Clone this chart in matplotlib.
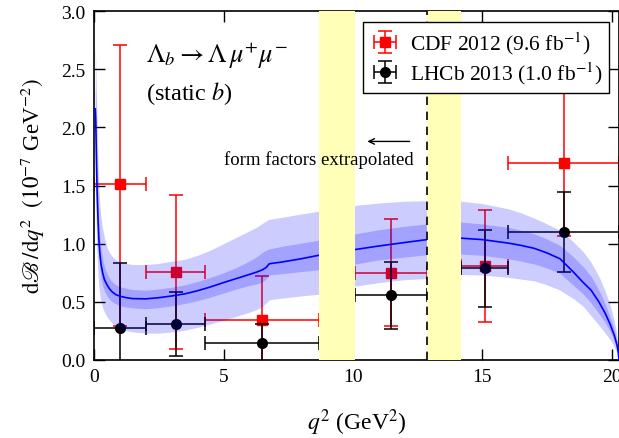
import numpy as np
import matplotlib
matplotlib.use('Agg')
from matplotlib import pyplot as plt

# bins (q^2 in GeV^2) shared by CDF and LHCb
bin_lo = [0.0, 2.0, 4.3, 10.09, 14.18, 16.0]
bin_hi = [2.0, 4.3, 8.68, 12.86, 16.0, 20.28]

# CDF 2012, 10^-7 GeV^-2
cdf_val = [1.515, 0.755, 0.345, 0.75, 0.81, 1.69]
cdf_up = [1.195, 0.66, 0.38, 0.465, 0.48, 0.61]
cdf_dn = [1.22, 0.665, 0.40, 0.46, 0.48, 0.625]

# LHCb 2013
lhcb_val = [0.275, 0.305, 0.146, 0.559, 0.79, 1.10]
lhcb_up = [0.56, 0.283, 0.161, 0.287, 0.33, 0.343]
lhcb_dn = [0.35, 0.275, 0.25, 0.292, 0.331, 0.345]

# lattice QCD prediction (static b)
q2 = [0.045, 0.065, 0.085, 0.1, 0.12, 0.15, 0.18, 0.22, 0.27, 0.33, 0.4, 0.5,
      0.6, 0.7, 0.85, 1.0, 1.25, 1.5, 2.0, 2.5, 3.0, 3.5, 4.0, 4.5, 5.0, 5.5,
      6.0, 6.3, 6.5, 6.65, 6.76, 6.85, 7.2, 8.0, 8.68, 9.4, 10.1, 11.0, 12.0,
      12.86, 13.5, 14.2, 15.0, 16.0, 16.5, 17.0, 17.5, 18.0, 18.5, 18.9, 19.2,
      19.5, 19.75, 19.95, 20.1, 20.2, 20.25, 20.28]
central = [2.16, 2.05, 1.8, 1.62, 1.43, 1.22, 1.05, 0.92, 0.82, 0.75, 0.69,
           0.645, 0.61, 0.585, 0.56, 0.548, 0.535, 0.527, 0.525, 0.535, 0.55,
           0.568, 0.595, 0.628, 0.665, 0.70, 0.735, 0.757, 0.775, 0.795, 0.826,
           0.83, 0.84, 0.87, 0.90, 0.925, 0.95, 0.98, 1.01, 1.035, 1.045, 1.047,
           1.035, 1.005, 0.985, 0.96, 0.92, 0.87, 0.76, 0.665, 0.60, 0.50, 0.40,
           0.30, 0.21, 0.13, 0.07, 0.0]
inner_hi = [2.35, 2.25, 2.0, 1.8, 1.6, 1.38, 1.2, 1.06, 0.95, 0.87, 0.8, 0.74,
            0.70, 0.67, 0.645, 0.63, 0.615, 0.605, 0.60, 0.61, 0.625, 0.645,
            0.675, 0.71, 0.75, 0.795, 0.85, 0.89, 0.925, 0.945, 0.955, 0.958,
            0.975, 1.005, 1.03, 1.06, 1.085, 1.12, 1.15, 1.17, 1.18, 1.185, 1.17,
            1.14, 1.115, 1.085, 1.04, 0.985, 0.89, 0.80, 0.72, 0.60, 0.48, 0.36,
            0.26, 0.16, 0.09, 0.0]
inner_lo = [1.95, 1.85, 1.6, 1.44, 1.26, 1.06, 0.91, 0.79, 0.70, 0.64, 0.59,
            0.55, 0.52, 0.50, 0.48, 0.465, 0.455, 0.447, 0.44, 0.45, 0.465,
            0.485, 0.51, 0.54, 0.575, 0.61, 0.64, 0.655, 0.67, 0.70, 0.73, 0.733,
            0.74, 0.76, 0.775, 0.80, 0.825, 0.86, 0.885, 0.905, 0.91, 0.91, 0.90,
            0.87, 0.85, 0.825, 0.79, 0.745, 0.645, 0.565, 0.49, 0.40, 0.32, 0.24,
            0.165, 0.10, 0.05, 0.0]
outer_hi = [2.7, 2.55, 2.35, 2.2, 2.0, 1.7, 1.5, 1.33, 1.22, 1.13, 1.05, 0.97,
            0.92, 0.89, 0.86, 0.845, 0.83, 0.82, 0.82, 0.83, 0.85, 0.865, 0.90,
            0.945, 1.0, 1.055, 1.11, 1.145, 1.175, 1.195, 1.21, 1.212, 1.225,
            1.255, 1.28, 1.305, 1.33, 1.35, 1.365, 1.37, 1.37, 1.365, 1.345, 1.30,
            1.265, 1.22, 1.17, 1.115, 1.02, 0.93, 0.84, 0.72, 0.59, 0.46, 0.33,
            0.21, 0.11, 0.0]
outer_lo = [1.5, 1.35, 1.15, 1.0, 0.87, 0.74, 0.64, 0.56, 0.5, 0.45, 0.41,
            0.37, 0.34, 0.315, 0.29, 0.27, 0.25, 0.24, 0.23, 0.23, 0.24, 0.255,
            0.28, 0.31, 0.34, 0.375, 0.41, 0.435, 0.46, 0.49, 0.515, 0.52, 0.53,
            0.55, 0.565, 0.60, 0.635, 0.665, 0.69, 0.70, 0.72, 0.735, 0.73, 0.71,
            0.695, 0.68, 0.645, 0.60, 0.53, 0.46, 0.38, 0.30, 0.23, 0.17, 0.11,
            0.06, 0.03, 0.0]

# charmonium vetoes
veto = [(8.68, 10.09), (12.86, 14.18)]
extrap_edge = 12.86


def main():
    plt.rcParams['font.family'] = ['Liberation Serif', 'DejaVu Serif']
    plt.rcParams['mathtext.fontset'] = 'stix'
    plt.rcParams['xtick.direction'] = 'in'
    plt.rcParams['ytick.direction'] = 'in'

    fig = plt.figure(figsize=(6.19, 4.39), dpi=100)
    ax = fig.add_axes([0.152, 0.178, 0.848, 0.794])

    lo = np.array(bin_lo)
    hi = np.array(bin_hi)
    mid = (lo + hi) / 2
    xe = [mid - lo, hi - mid]

    ax.errorbar(mid, cdf_val, xerr=xe, yerr=[cdf_dn, cdf_up], fmt='s',
                color='red', ms=6.5, capsize=5, elinewidth=1.1, capthick=1.1,
                zorder=2, label=r'CDF 2012 (9.6 fb$^{-1}$)')
    ax.errorbar(mid, lhcb_val, xerr=xe, yerr=[lhcb_dn, lhcb_up], fmt='o',
                color='black', ms=7, capsize=5, elinewidth=1.1, capthick=1.1,
                zorder=2.1, label=r'LHCb 2013 (1.0 fb$^{-1}$)')

    ax.fill_between(q2, outer_lo, outer_hi, color='blue', alpha=0.2, lw=0, zorder=3)
    ax.fill_between(q2, inner_lo, inner_hi, color='blue', alpha=0.2, lw=0, zorder=3)
    ax.plot(q2, central, color='blue', lw=1.2, zorder=4)

    for a, b in veto:
        ax.axvspan(a, b, color='#ffffb8', lw=0, zorder=5)
    ax.axvline(extrap_edge, color='black', ls=(0, (5, 4)), lw=1.2, zorder=6)

    ax.text(2.0, 2.62, r'$\Lambda_b \rightarrow \Lambda\,\mu^{+}\mu^{-}$',
            fontsize=19, va='center', ha='left')
    ax.text(2.0, 2.30, r'(static $b$)', fontsize=17.5, va='center', ha='left')
    ax.text(8.7, 1.73, 'form factors extrapolated', fontsize=13.5,
            ha='center', va='center', zorder=7)
    ax.annotate('', xy=(10.45, 1.88), xytext=(12.3, 1.88),
                arrowprops=dict(arrowstyle='->', color='black', lw=1.0))

    ax.set_xlim(0, 20.28)
    ax.set_ylim(0, 3.0)
    ax.set_xticks([0, 5, 10, 15, 20])
    ax.set_yticks(np.arange(0, 3.01, 0.5))
    ax.set_yticklabels(['%.1f' % v for v in np.arange(0, 3.01, 0.5)])
    ax.tick_params(top=True, right=True, length=8, width=1, labelsize=14, pad=6)
    for s in ax.spines.values():
        s.set_linewidth(1.2)

    ax.set_xlabel(r'$q^2$ (GeV$^2$)', fontsize=17, labelpad=15)
    ax.set_ylabel(r'$\mathrm{d}\mathscr{B}\,/\mathrm{d}q^2$  $(10^{-7}$ GeV$^{-2})$',
                  fontsize=16.5, labelpad=10)

    leg = ax.legend(loc='upper right', bbox_to_anchor=(0.981, 0.968),
                    borderaxespad=0, fancybox=False, framealpha=1,
                    edgecolor='black', fontsize=15.5, handlelength=1.4,
                    handletextpad=0.45, borderpad=0.32, labelspacing=0.18)
    leg.get_frame().set_linewidth(1.0)
    leg.set_zorder(10)

    fig.savefig('out.png', dpi=100)
    plt.close(fig)


if __name__ == '__main__':
    main()
